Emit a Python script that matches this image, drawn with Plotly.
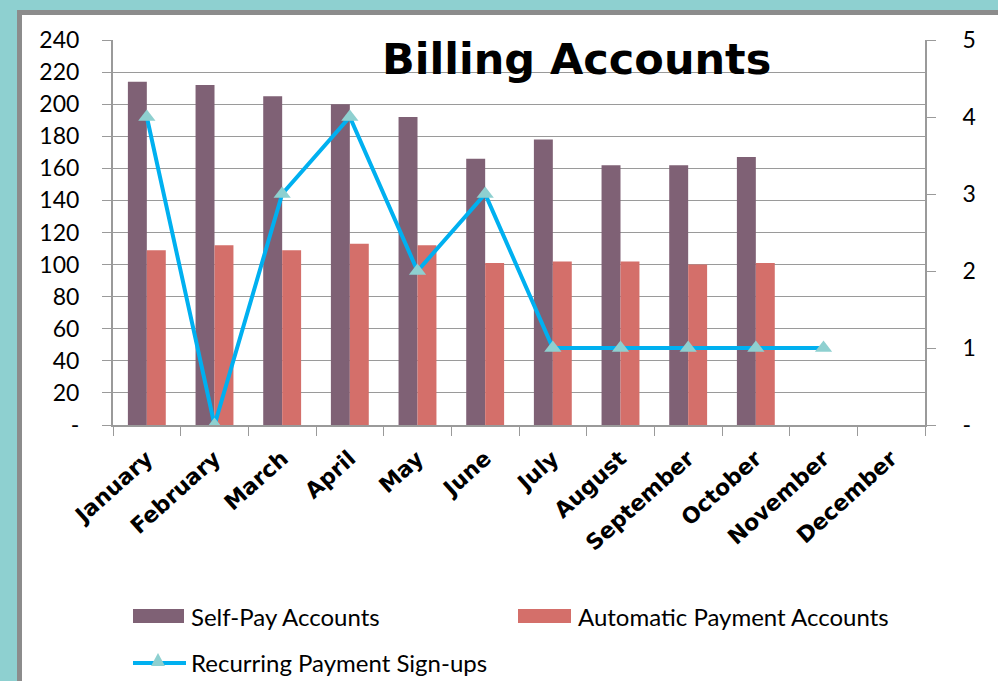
import plotly.graph_objects as go

months = ["January", "February", "March", "April", "May", "June", "July",
          "August", "September", "October", "November", "December"]
self_pay = [214, 212, 205, 200, 192, 166, 178, 162, 162, 167, None, None]
automatic = [109, 112, 109, 113, 112, 101, 102, 102, 100, 101, None, None]
signups = [4, 0, 3, 4, 2, 3, 1, 1, 1, 1, 1, None]

left_vals = list(range(0, 241, 20))
left_text = ["-"] + [str(v) for v in left_vals[1:]]
right_vals = [0, 1, 2, 3, 4, 5]
right_text = ["-", "1", "2", "3", "4", "5"]

W, H = 998, 681
L, R, T, B = 113, 925, 40, 425
PW, PH = R - L, B - T


def px(x):
    return (x - L) / PW


def py(y):
    return (B - y) / PH


FONT = "Lato"
WIDE = "DejaVu Sans"
PURPLE = "#7F6175"
RED = "#D46F6A"
BLUE = "#00B0F0"
TEAL = "#8ED0D0"
GRID = "#9a9a9a"

fig = go.Figure()
fig.add_trace(go.Bar(x=months, y=self_pay, name="Self-Pay Accounts",
                     marker=dict(color=PURPLE, line=dict(width=0))))
fig.add_trace(go.Bar(x=months, y=automatic, name="Automatic Payment Accounts",
                     marker=dict(color=RED, line=dict(width=0))))
fig.add_trace(go.Scatter(x=months, y=signups, name="Recurring Payment Sign-ups",
                         yaxis="y2", mode="lines+markers",
                         line=dict(color=BLUE, width=4),
                         marker=dict(symbol="triangle-up", size=15, color=TEAL)))

shapes = []
# background panel
shapes.append(dict(type="rect", xref="paper", yref="paper", layer="below",
                   x0=px(19.5), x1=px(W + 5), y0=py(H + 5), y1=py(12.5),
                   fillcolor="white", line=dict(color="#8c8c8c", width=5)))
# legend swatches
shapes.append(dict(type="rect", xref="paper", yref="paper",
                   x0=px(133), x1=px(184), y0=py(623), y1=py(609),
                   fillcolor=PURPLE, line=dict(width=0)))
shapes.append(dict(type="rect", xref="paper", yref="paper",
                   x0=px(518), x1=px(571), y0=py(623), y1=py(609),
                   fillcolor=RED, line=dict(width=0)))
shapes.append(dict(type="line", xref="paper", yref="paper",
                   x0=px(133), x1=px(186), y0=py(663), y1=py(663),
                   line=dict(color=BLUE, width=4)))
tx, ty = 158, 660
shapes.append(dict(type="path", xref="paper", yref="paper",
                   path=f"M {px(tx-7)} {py(ty+6)} L {px(tx+7)} {py(ty+6)} L {px(tx)} {py(ty-7)} Z",
                   fillcolor=TEAL, line=dict(width=0)))

annotations = [
    dict(text="<b>Billing Accounts</b>", xref="paper", yref="paper",
         x=px(576), y=py(59), showarrow=False, yanchor="middle",
         font=dict(family=WIDE, size=43, color="black")),
    dict(text="Self-Pay Accounts", xref="paper", yref="paper",
         x=px(189), y=py(616), xanchor="left", yanchor="middle", showarrow=False,
         font=dict(family=FONT, size=24, color="black")),
    dict(text="Automatic Payment Accounts", xref="paper", yref="paper",
         x=px(576), y=py(616), xanchor="left", yanchor="middle", showarrow=False,
         font=dict(family=FONT, size=24, color="black")),
    dict(text="Recurring Payment Sign-ups", xref="paper", yref="paper",
         x=px(189), y=py(662), xanchor="left", yanchor="middle", showarrow=False,
         font=dict(family=FONT, size=24, color="black")),
]

fig.update_layout(
    width=W, height=H,
    margin=dict(l=L, r=W - R, t=T, b=H - B, pad=0),
    paper_bgcolor=TEAL, plot_bgcolor="white",
    barmode="group", bargap=0.44, bargroupgap=0,
    showlegend=False,
    font=dict(family=FONT, color="black"),
    shapes=shapes, annotations=annotations,
    xaxis=dict(categoryorder="array", categoryarray=months,
               range=[-0.5, 11.5],
               tickson="boundaries", ticks="outside", ticklen=9,
               tickcolor=GRID, showline=True, linecolor=GRID, linewidth=2,
               showgrid=False, tickangle=-42, ticklabelstandoff=10,
               tickfont=dict(family=WIDE, size=22, color="black", weight="bold")),
    yaxis=dict(range=[0, 240], tickvals=left_vals, ticktext=left_text,
               ticks="outside", ticklen=9, tickcolor=GRID,
               showline=True, linecolor=GRID, linewidth=2,
               showgrid=True, gridcolor=GRID, gridwidth=1,
               zeroline=False, ticklabelstandoff=18,
               tickfont=dict(family=FONT, size=23, color="black")),
    yaxis2=dict(range=[0, 5], tickvals=right_vals, ticktext=right_text,
                overlaying="y", side="right", anchor="x",
                ticks="outside", ticklen=9, tickcolor=GRID,
                showline=True, linecolor=GRID, linewidth=2,
                showgrid=False, zeroline=False, ticklabelstandoff=22,
                tickfont=dict(family=FONT, size=23, color="black")),
)

fig.write_html("out.html", config={"displayModeBar": False},
               post_script="document.body.style.margin='0px';"
                           "document.body.style.background='#8ED0D0';")
